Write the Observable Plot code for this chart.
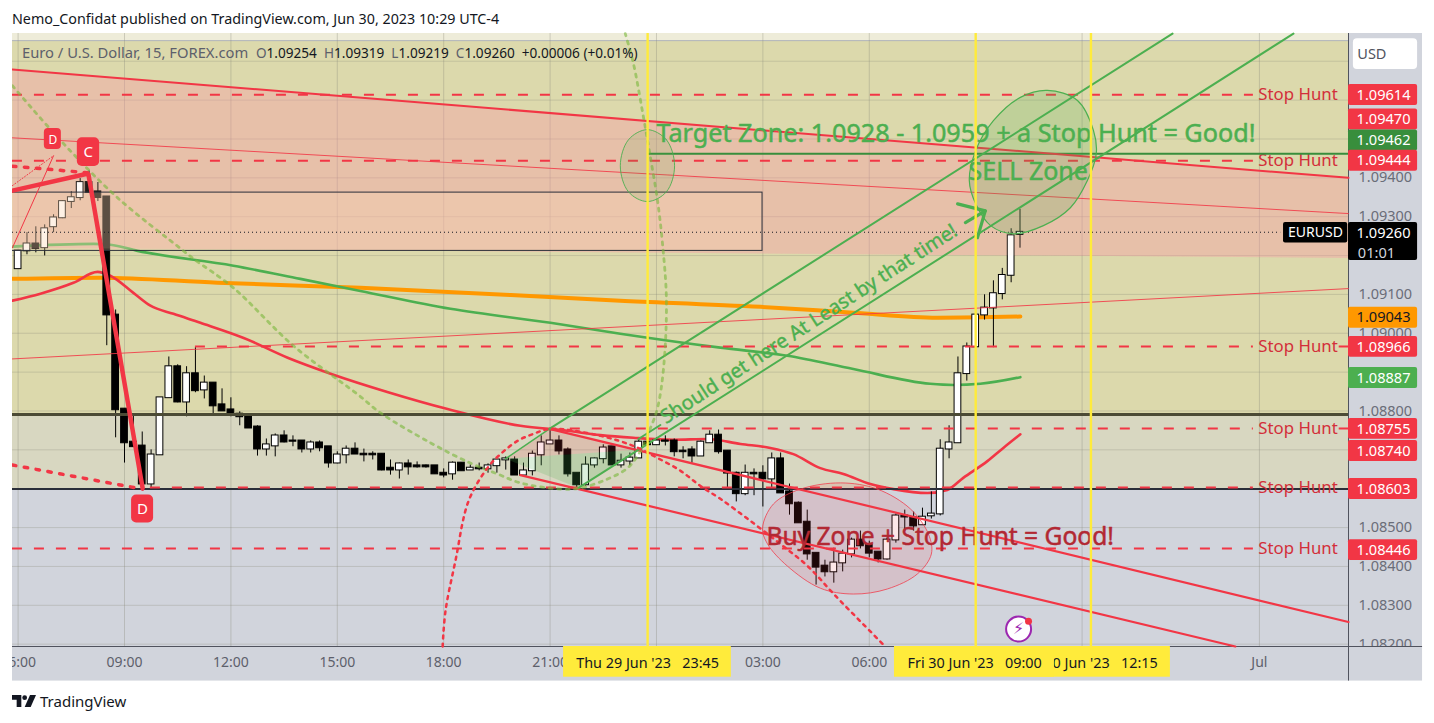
<!DOCTYPE html>
<html><head><meta charset="utf-8">
<script src="https://cdn.jsdelivr.net/npm/d3@7"></script>
<script src="https://cdn.jsdelivr.net/npm/@observablehq/plot@0.6"></script>
<style>
html,body{margin:0;padding:0;background:#fff;overflow:hidden;width:1434px;height:723px;font-family:"Noto Sans",sans-serif;position:relative}
#title{position:absolute;left:12px;top:9px;font-size:14.3px;line-height:20px;color:#131722;white-space:nowrap}
#panel{position:absolute;left:12px;top:33px;width:1410px;height:647px;background:#d1d4dc}
#chart{position:absolute;left:0;top:33px;width:1434px;height:647px}
#mask{position:absolute;left:0;top:33px;width:12px;height:647px;background:#fff}
#legend{position:absolute;left:22px;top:42px;font-size:13.6px;line-height:20px;color:#131722;white-space:pre}
#legend i{font-style:normal;color:#5d606b}
#legend i.n{font-size:14.75px}
#foot{position:absolute;left:12px;top:691px;height:20px;display:flex;align-items:center;font-size:15px;color:#131722}
#foot svg{margin-right:4px}
</style></head><body>
<div id="title">Nemo_Confidat published on TradingView.com, Jun 30, 2023 10:29 UTC-4</div>
<div id="panel"></div>
<div id="chart"></div>
<div id="mask"></div>
<div id="legend"><i class="n">Euro / U.S. Dollar, 15, FOREX.com  </i><i>O</i>1.09254  <i>H</i>1.09319  <i>L</i>1.09219  <i>C</i>1.09260  +0.00006 (+0.01%)</div>
<div id="foot"><svg width="24" height="12" viewBox="0 0 36 18"><path d="M0 0h14v18H7V7H0z" fill="#131722"/><circle cx="19" cy="4" r="3.6" fill="#131722"/><path d="M27 0h9l-8 18h-9z" fill="#131722"/></svg>TradingView</div>
<script>
// 15-minute EURUSD bars, prices in 1e-5 units; hours counted from Thu 29 Jun 00:00
const firstBarHour = 6, barHours = 0.25;
const opens = [109166,109212,109230,109220,109274,109297,109339,109349,109388,109364,109351,109047,108805,108720,108710,108612,108687,108834,108914,108823,108896,108854,108872,108816,108803,108792,108787,108759,108702,108710,108736,108723,108723,108702,108718,108708,108666,108687,108702,108689,108689,108689,108653,108648,108664,108659,108659,108659,108640,108638,108666,108648,108653,108651,108659,108674,108674,108635,108646,108687,108715,108723,108700,108640,108610,108661,108677,108708,108661,108671,108679,108720,108713,108723,108723,108697,108700,108684,108718,108738,108697,108640,108587,108640,108640,108625,108677,108592,108563,108514,108434,108401,108386,108409,108432,108468,108455,108437,108419,108468,108530,108525,108507,108530,108535,108702,108718,108896,108965,109047,109065,109102,109149,109254];
const highs = [109212,109259,109274,109279,109305,109341,109364,109398,109418,109388,109351,109060,108805,108787,108746,108700,108834,108939,108919,108914,108963,108890,108872,108857,108834,108798,108792,108762,108728,108741,108749,108736,108723,108723,108723,108708,108695,108710,108718,108702,108695,108689,108674,108666,108674,108669,108661,108659,108651,108669,108666,108661,108666,108664,108674,108682,108682,108666,108697,108736,108749,108736,108705,108640,108682,108679,108713,108708,108689,108692,108728,108723,108731,108736,108728,108708,108708,108723,108749,108751,108697,108643,108661,108651,108659,108692,108692,108612,108566,108545,108434,108416,108447,108442,108473,108491,108465,108437,108473,108535,108545,108540,108550,108592,108726,108762,108939,108975,109047,109099,109135,109167,109269,109319];
const lows = [109166,109202,109207,109199,109259,109295,109321,109341,109362,109339,108968,108731,108666,108708,108607,108602,108687,108834,108821,108785,108847,108831,108787,108800,108785,108762,108756,108684,108684,108682,108718,108708,108692,108692,108695,108653,108664,108664,108689,108669,108674,108646,108635,108625,108635,108653,108653,108638,108628,108622,108646,108648,108646,108640,108640,108648,108635,108633,108633,108659,108715,108687,108630,108602,108607,108653,108664,108661,108653,108659,108679,108713,108713,108710,108682,108677,108666,108684,108718,108689,108602,108566,108582,108582,108553,108602,108589,108532,108512,108416,108352,108373,108357,108386,108422,108445,108422,108409,108416,108460,108491,108491,108507,108522,108530,108677,108718,108877,108965,109034,108963,109086,109130,109219];
const closes = [109212,109230,109218,109269,109297,109339,109349,109388,109362,109349,109047,108803,108718,108708,108612,108687,108834,108914,108823,108896,108852,108872,108813,108800,108790,108785,108756,108702,108713,108736,108720,108722,108702,108718,108705,108666,108687,108702,108689,108687,108687,108648,108648,108664,108656,108656,108656,108638,108635,108666,108646,108653,108651,108659,108674,108677,108635,108646,108689,108718,108723,108697,108638,108610,108661,108677,108705,108661,108671,108679,108720,108713,108723,108722,108695,108695,108684,108720,108738,108695,108640,108587,108640,108638,108625,108677,108589,108561,108512,108432,108398,108386,108409,108432,108468,108453,108434,108419,108468,108530,108527,108504,108527,108535,108702,108718,108896,108965,109047,109065,109102,109149,109251,109260];

// moving averages
const emaRedH = [5.84,6.63,7.56,8.24,8.60,9.25,9.73,10.38,11.14,12.36,13.60,14.81,16.41,18.11,20.16,21.49,22.42,23.35,24.48,25.44,26.37,27.21,27.86,28.62,29.27,30.03,30.68,31.64,32.20,32.65,33.33,33.78,34.26];
const emaRedP = [109084,109102,109130,109158,109148,109104,109071,109050,109027,108988,108937,108896,108849,108805,108762,108749,108738,108731,108726,108728,108715,108705,108689,108653,108638,108612,108599,108589,108597,108628,108671,108705,108740];
const emaGreenH = [5.84,8.13,8.60,9.37,12.07,13.96,15.65,18.19,21.01,22.98,25.80,27.69,29.55,31.72,32.37,33.13,34.26];
const emaGreenP = [109223,109230,109228,109212,109174,109140,109109,109063,109027,108999,108963,108942,108908,108870,108867,108870,108887];
const emaOrangeH = [5.84,8.32,11.62,15.65,22.98,26.93,29.55,31.92,34.26];
const emaOrangeP = [109140,109143,109130,109117,109084,109068,109053,109040,109043];

// dotted arcs
const arcGreenH = [5.84,7.20,8.80,10.58,10.94,12.07,13.76,15.60,16.22,17.63,18.75,19.52,20.16,21.29,21.86,22.62,23.18,23.55,23.83,24.03,24.20,24.28,24.17,24.03,23.83,23.60,23.35,23.12];
const arcGreenP = [109637,109496,109349,109218,109192,109117,108968,108841,108795,108718,108666,108638,108615,108599,108602,108625,108653,108697,108756,108808,108911,109084,109230,109341,109452,109573,109694,109771];
const arcRedH = [17.97,18.05,18.33,18.70,19.23,19.60,20.08,20.53,21.01,22.42,23.35,24.03,24.68,25.24,25.80,26.65,27.49,28.26,29.05,30.45];
const arcRedP = [108194,108285,108414,108568,108653,108689,108723,108741,108754,108736,108710,108679,108646,108607,108574,108517,108458,108401,108324,108194];

// ellipses
const sellH = [35.02,35.87,36.32,36.40,36.15,35.67,34.91,34.06,33.42,33.0,32.82,33.0,33.50,34.26];
const sellP = [109625,109599,109522,109462,109393,109323,109277,109256,109277,109333,109393,109470,109547,109607];
const targetH = [23.74,24.28,24.51,24.28,23.74,23.21,22.98,23.21];
const targetP = [109524,109498,109431,109364,109339,109364,109431,109498];
const buyH = [29.19,30.23,31.16,31.67,31.75,31.36,30.51,29.55,28.62,27.69,27.13,26.99,27.30,28.06];
const buyP = [108615,108599,108548,108483,108432,108381,108342,108329,108344,108401,108458,108499,108561,108599];

// price levels
const stopLevels = [109614,109444,108966,108755,108603,108446];
const stopStarts = [5.84,5.84,11.0,21.57,9.73,5.84];
const badgeText = ["1.09614","1.09470","1.09462","1.09444","1.09043","1.08966","1.08887","1.08755","1.08740","1.08603","1.08446"];
const badgeAt = [109613,109550,109496,109444,109040,108965,108885,108754,108697,108599,108442];
const badgeFill = ["#f23645","#f23645","#388e3c","#f23645","#ff9800","#f23645","#4caf50","#f23645","#f23645","#f23645","#f23645"];
const gridPrices = [1.082,1.083,1.084,1.085,1.086,1.087,1.088,1.089,1.09,1.091,1.092,1.093,1.094,1.095,1.096,1.097];
const priceTicks = [1.082,1.083,1.084,1.085,1.088,1.089,1.09,1.091,1.093,1.094];
const timeTicks = [6,9,12,15,18,21,24,27,30,33,36,41];
const timeLabels = ["06:00","09:00","12:00","15:00","18:00","21:00","","03:00","06:00","","","Jul"];
const markers = [23.75,33,36.25];

const tbl = (hs,ps)=>hs.map((h,i)=>({h,p:ps[i]/1e5}));
const seg = (h1,p1,h2,p2)=>tbl([h1,h2],[p1,p2]);
const bars = opens.map((o,i)=>({t:firstBarHour+i*barHours,o:o/1e5,h:highs[i]/1e5,l:lows[i]/1e5,c:closes[i]/1e5}));
const XMIN=5.842,XMAX=43.512,YMIN=1.08194,YMAX=1.097714,PANELX=45.6,PANELY=1.08105;
const RED="#f23645",GREEN="#4caf50",FONT='"Noto Sans",sans-serif';
const ln=(d,o)=>Plot.line(d,{x:"h",y:"p",...o});
const band=(p1,p2,fill)=>Plot.rect([0],{x1:XMIN,x2:XMAX,y1:p1,y2:p2,fill});
const zonePts=tbl([5.84,43.51,43.51,5.84],[109679,109400,109194,109220]);
const txt=(s,h,p,o)=>Plot.text([s],{x:h,y:p/1e5,text:d=>d,lineAnchor:"middle",...o});

const chart=Plot.plot({
  width:1434,height:647,marginLeft:12,marginRight:86,marginTop:0,marginBottom:34,
  style:{background:"transparent",fontFamily:FONT,fontSize:"13px",overflow:"visible"},
  x:{domain:[XMIN,XMAX]},y:{domain:[YMIN,YMAX]},
  marks:[
    band(1.09753,YMAX,"#eeecd9"),
    band(1.08791,1.09753,"#dcd9ac"),
    band(1.08599,1.08791,"#d8d7c1"),
    band(YMIN,1.08599,"#d1d4dc"),
    Plot.ruleY([1.09753],{x1:XMIN,x2:XMAX,stroke:"#b2b5be"}),
    Plot.ruleY(gridPrices,{x1:XMIN,x2:XMAX,stroke:"#8a8a7a",strokeOpacity:.3}),
    Plot.ruleX(timeTicks,{y1:YMIN,y2:YMAX,stroke:"#8a8a7a",strokeOpacity:.35}),
    ln(zonePts,{curve:"linear-closed",fill:"rgb(250,110,150)",fillOpacity:.27,stroke:null}),
    // price scale & time scale
    Plot.axisY(priceTicks,{anchor:"right",tickSize:0,tickPadding:10,tickFormat:d=>d.toFixed(5),fill:"#6a6d78",fontSize:14.5,label:null}),
    Plot.rect([0],{x1:XMIN,x2:PANELX,y1:PANELY,y2:YMIN,fill:"#d1d4dc"}),
    Plot.axisX(timeTicks,{anchor:"bottom",tickSize:0,tickPadding:11,tickFormat:(d,i)=>timeLabels[timeTicks.indexOf(d)],fill:"#5d606b",fontSize:14,label:null}),
    Plot.ruleY([YMIN],{x1:XMIN,x2:PANELX,stroke:"#50535e"}),
    Plot.ruleX([XMAX],{y1:PANELY,y2:YMAX,stroke:"#50535e"}),
    // indicators
    ln(tbl(emaOrangeH,emaOrangeP),{stroke:"#ff9800",strokeWidth:4,curve:"monotone-x"}),
    ln(tbl(emaGreenH,emaGreenP),{stroke:GREEN,strokeWidth:2.6,curve:"monotone-x"}),
    ln(tbl(emaRedH,emaRedP),{stroke:RED,strokeWidth:2.6,curve:"monotone-x"}),
    // candles
    Plot.ruleX(bars,{x:"t",y1:"l",y2:"h",stroke:"#000",strokeWidth:1}),
    Plot.rect(bars,{x1:d=>d.t-.095,x2:d=>d.t+.095,y1:d=>Math.min(d.o,d.c)-.00001,y2:d=>Math.max(d.o,d.c)+.00001,fill:d=>d.c>=d.o?"#fff":"#000",stroke:"#000",strokeWidth:1}),
    // zones over candles
    ln(zonePts,{curve:"linear-closed",fill:"rgb(255,225,200)",fillOpacity:.12,stroke:null}),
    Plot.rect([0],{x1:5.5,x2:26.99,y1:1.09212,y2:1.09362,fill:"rgb(250,215,180)",fillOpacity:.28,stroke:"#2a2e39",strokeWidth:1}),
    Plot.ruleY([1.0926],{x1:XMIN,x2:41.6,stroke:"#131722",strokeWidth:1,strokeDasharray:"1 3"}),
    // level lines
    Plot.ruleY([1.08791],{x1:XMIN,x2:XMAX,stroke:"#4b4a35",strokeWidth:3}),
    Plot.ruleY([1.08599],{x1:XMIN,x2:XMAX,stroke:"#2a2e39",strokeWidth:2}),
    Plot.ruleY(stopLevels,{y:d=>d/1e5,x1:(d,i)=>stopStarts[i],x2:40.83,stroke:RED,strokeWidth:2,strokeDasharray:"10 12"}),
    Plot.ruleY([108966,108755],{y:d=>d/1e5,x1:43.25,x2:XMAX,stroke:RED,strokeWidth:2}),
    Plot.text(stopLevels,{x:40.97,y:d=>d/1e5,text:()=>"Stop Hunt",textAnchor:"start",fill:"#d32f3a",fontSize:16.8,lineAnchor:"middle"}),
    Plot.ruleY([1.09462],{x1:23.75,x2:XMAX,stroke:"#388e3c",strokeWidth:2}),
    // slanted trend lines
    ln(seg(5.84,109503,43.51,109308),{stroke:RED,strokeWidth:1,strokeOpacity:.85}),
    ln(seg(5.84,108934,43.51,109115),{stroke:RED,strokeWidth:1,strokeOpacity:.85}),
    ln(seg(5.84,109679,43.51,109400),{stroke:RED,strokeWidth:2}),
    ln(seg(20.98,108754,43.51,108257),{stroke:RED,strokeWidth:2.2}),
    ln(seg(20.16,108635,40.32,108194),{stroke:RED,strokeWidth:2.2}),
    // harmonic pattern
    ln(seg(5.84,109220,7.0,109457),{stroke:RED,strokeWidth:1}),
    ln(seg(5.84,109380,7.0,109457),{stroke:RED,strokeWidth:1,strokeDasharray:"1 2"}),
    ln(seg(5.84,109430,7.98,109413),{stroke:RED,strokeWidth:3.5,strokeDasharray:"3.5 8.5"}),
    ln(seg(5.84,108661,9.51,108599),{stroke:RED,strokeWidth:3.5,strokeDasharray:"3.5 8.5"}),
    ln(tbl([5.84,7.98,9.51],[109367,109411,108602]),{stroke:RED,strokeWidth:4.5,strokeLinejoin:"miter"}),
    // triangles + green channels
    ln(tbl([19.74,20.98,23.46],[108677,108754,108700]),{curve:"linear-closed",fill:RED,fillOpacity:.14,stroke:null}),
    ln(tbl([19.74,21.80,23.46],[108677,108602,108700]),{curve:"linear-closed",fill:GREEN,fillOpacity:.2,stroke:null}),
    ln(seg(19.74,108677,20.98,108754),{stroke:GREEN,strokeWidth:1.5}),
    ln(seg(20.98,108754,38.55,109771),{stroke:GREEN,strokeWidth:2}),
    ln(seg(21.80,108602,41.96,109771),{stroke:GREEN,strokeWidth:2}),
    ln(seg(23.49,108728,24.11,108764),{stroke:GREEN,strokeWidth:2}),
    // dotted arcs
    ln(tbl(arcGreenH,arcGreenP),{stroke:"#7cb83f",strokeOpacity:.62,strokeWidth:2.8,strokeDasharray:"3 5.5",curve:"catmull-rom"}),
    ln(tbl(arcRedH,arcRedP),{stroke:RED,strokeWidth:2.5,strokeDasharray:"3 5",curve:"catmull-rom"}),
    // ellipses
    ln(tbl(targetH,targetP),{curve:"catmull-rom-closed",fill:GREEN,fillOpacity:.13,stroke:GREEN,strokeWidth:1,strokeOpacity:.9}),
    ln(tbl(sellH,sellP),{curve:"catmull-rom-closed",fill:GREEN,fillOpacity:.2,stroke:GREEN,strokeWidth:1.2}),
    ln(tbl(buyH,buyP),{curve:"catmull-rom-closed",fill:RED,fillOpacity:.12,stroke:RED,strokeWidth:1,strokeOpacity:.75}),
    // arrow
    ln(seg(32.49,109333,33.27,109315),{stroke:GREEN,strokeWidth:3.2}),
    ln(tbl([32.71,33.27,33.05],[109285,109315,109246]),{stroke:GREEN,strokeWidth:3.2}),
    // annotations
    txt("Target Zone: 1.0928 - 1.0959 + a Stop Hunt = Good!",24.0,109514,{textAnchor:"start",fill:GREEN,stroke:GREEN,strokeWidth:.5,fontSize:25.2}),
    txt("SELL Zone",32.8,109416,{textAnchor:"start",fill:GREEN,stroke:GREEN,strokeWidth:.5,fontSize:25}),
    txt("Buy Zone + Stop Hunt = Good!",27.1,108476,{textAnchor:"start",fill:"#b22833",stroke:"#b22833",strokeWidth:.5,fontSize:24.6}),
    txt("Should get here At Least by that time!",28.3,109024,{rotate:-33,fill:GREEN,stroke:GREEN,strokeWidth:.4,fontSize:19.8}),
    // pattern labels
    Plot.rect([0],{x1:6.74,x2:7.22,y1:1.09473,y2:1.09527,fill:RED,rx:4}),
    txt("D",6.98,109498,{fill:"#fff",fontSize:12}),
    Plot.rect([0],{x1:7.67,x2:8.30,y1:1.09429,y2:1.09503,fill:RED,rx:5}),
    txt("C",7.98,109466,{fill:"#fff",fontSize:15}),
    Plot.rect([0],{x1:9.20,x2:9.82,y1:1.08512,y2:1.08584,fill:RED,rx:5}),
    txt("D",9.51,108548,{fill:"#fff",fontSize:15}),
    // vertical time markers
    Plot.ruleX(markers,{y1:YMIN,y2:YMAX,stroke:"#ffeb3b",strokeWidth:2.4}),
    // news badge
    Plot.dot([0],{x:34.21,y:1.08239,r:12.5,fill:"#fff",stroke:"#9c27b0",strokeWidth:2}),
    txt("⚡",34.21,108239,{fill:"#9c27b0",fontSize:16,fontFamily:"DejaVu Sans"}),
    Plot.dot([0],{x:34.49,y:1.08259,r:3.5,fill:RED}),
    // date labels
    Plot.rect([0],{x1:21.38,x2:26.11,y1:1.08115,y2:YMIN,fill:"#ffeb3b"}),
    txt("Thu 29 Jun '23   23:45",23.75,108150,{fill:"#131722",fontSize:14.4}),
    Plot.rect([0],{x1:33.98,x2:38.49,y1:1.08115,y2:YMIN,fill:"#ffeb3b"}),
    txt("Fri 30 Jun '23   12:15",36.24,108150,{fill:"#131722",fontSize:14.4}),
    Plot.rect([0],{x1:30.71,x2:35.22,y1:1.08115,y2:YMIN,fill:"#ffeb3b"}),
    txt("Fri 30 Jun '23   09:00",32.97,108150,{fill:"#131722",fontSize:14.4}),
    // price badges
    Plot.rect(badgeAt,{x1:XMAX,x2:45.46,y1:d=>(d-27)/1e5,y2:d=>(d+27)/1e5,fill:(d,i)=>badgeFill[i],rx:2}),
    Plot.text(badgeText,{x:44.5,y:(d,i)=>badgeAt[i]/1e5,text:d=>d,fill:d=>d==="1.09043"?"#131722":"#fff",fontSize:14.6,lineAnchor:"middle"}),
    Plot.rect([0],{x1:XMAX,x2:45.46,y1:1.09187,y2:1.09285,fill:"#000",rx:2}),
    txt("1.09260",44.5,109256,{fill:"#fff",fontSize:14.6}),
    txt("01:01",44.3,109205,{fill:"#d1d4dc",fontSize:14.6}),
    Plot.rect([0],{x1:41.68,x2:43.49,y1:1.09232,y2:1.09285,fill:"#000",rx:2}),
    txt("EURUSD",42.58,109258,{fill:"#fff",fontSize:14}),
    Plot.rect([0],{x1:43.65,x2:45.46,y1:1.09679,y2:1.09758,fill:"#fff",rx:4}),
    txt("USD",43.76,109718,{textAnchor:"start",fill:"#50535e",fontSize:14.5})
  ]
});
document.getElementById("chart").appendChild(chart);
</script>
</body></html>
